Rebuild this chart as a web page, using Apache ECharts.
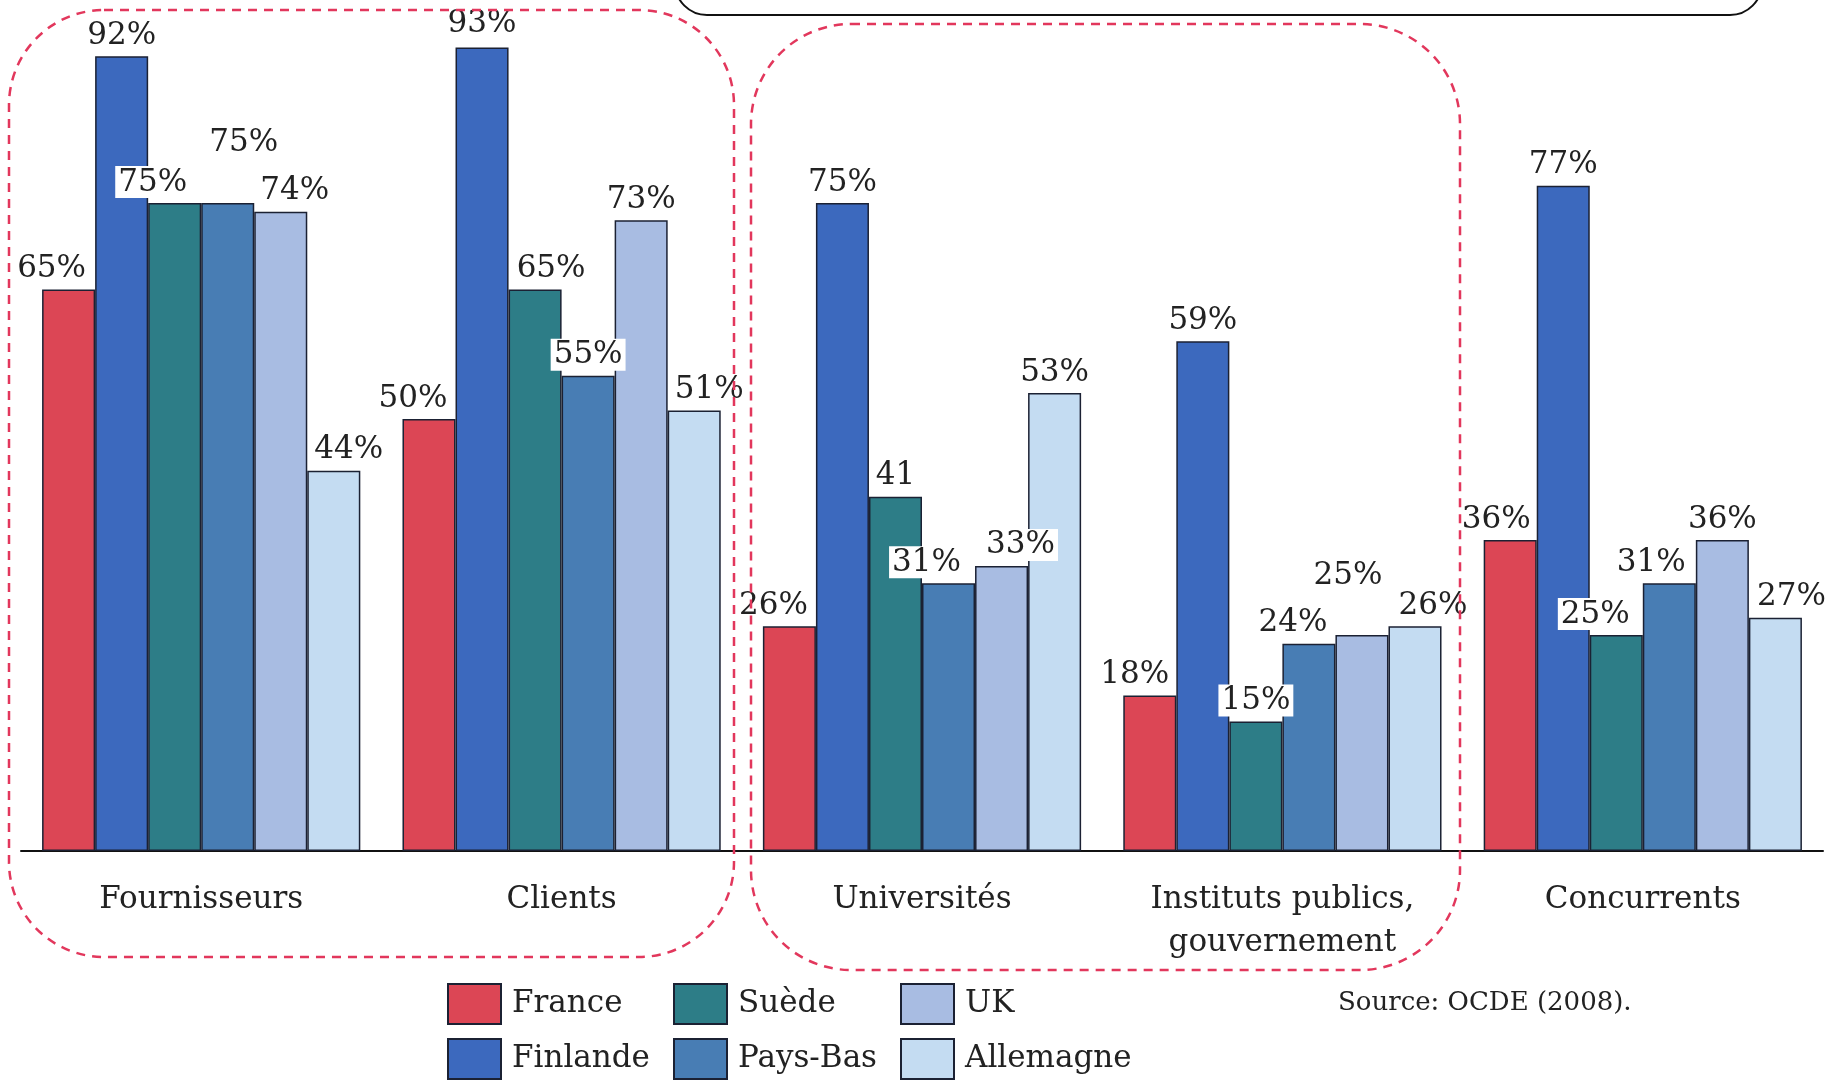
<!DOCTYPE html>
<html><head><meta charset="utf-8">
<script src="https://cdn.jsdelivr.net/npm/echarts@6/dist/echarts.min.js"></script>
<style>html,body{margin:0;padding:0;background:#fff}#c{width:1841px;height:1081px}</style>
</head><body><div id="c"></div>
<script>
// ---- data ----
const categories = ['Fournisseurs', 'Clients', 'Universités', 'Instituts publics,\ngouvernement', 'Concurrents'];
const countries = ['France', 'Finlande', 'Suède', 'Pays-Bas', 'UK', 'Allemagne'];
const france    = [65, 50, 26, 18, 36];
const finlande  = [92, 93, 75, 59, 77];
const suede     = [75, 65, 41, 15, 25];
const paysBas   = [75, 55, 31, 24, 31];
const uk        = [74, 73, 33, 25, 36];
const allemagne = [44, 51, 53, 26, 27];
const labelTextOverrides = { 'Suède|2': '41' };
const sourceText = 'Source: OCDE (2008).';

// ---- styling ----
const FONT = 'DejaVu Serif';
const colors = ['#DC4655', '#3C69BE', '#2D7D87', '#487DB4', '#A8BCE2', '#C4DCF2'];
// [dx, dy, whiteBackground]
const labelTweaks = {
  'France':    [[-17,0],[-16,0],[-16,0],[-15,0],[-14,0]],
  'Finlande':  [[0,0],[0,-3],[0,0],[0,0],[0,0]],
  'Suède':     [[-22,0,1],[16,0],[0,0],[0,0,1],[-21,0,1]],
  'Pays-Bas':  [[16,-40],[0,0,1],[-22,0,1],[-16,0],[-18,0]],
  'UK':        [[14,0],[0,0],[19,0,1],[-14,-39],[0,0]],
  'Allemagne': [[15,0],[15,0],[0,0],[18,0],[16,0]]
};
const seriesValues = [france, finlande, suede, paysBas, uk, allemagne];

const series = countries.map((name, si) => ({
  name, type: 'bar',
  barGap: '0%', barCategoryGap: '11.7%',
  itemStyle: { color: colors[si], borderColor: '#1b2133', borderWidth: 1.5 },
  label: {
    show: true, position: 'top', distance: 5,
    fontFamily: FONT, fontSize: 31, color: '#222'
  },
  data: seriesValues[si].map((v, ci) => {
    const t = labelTweaks[name][ci];
    const txt = labelTextOverrides[name + '|' + ci] || (v + '%');
    const lab = { offset: [t[0], t[1]], formatter: txt };
    if (t[2]) { lab.backgroundColor = '#fff'; lab.padding = [1, 3, 0, 3]; }
    return { value: v, label: lab };
  })
}));

// legend placement: 3 columns x 2 rows
const legendLayout = {
  'France': [447, 983], 'Finlande': [447, 1038],
  'Suède': [673, 983], 'Pays-Bas': [673, 1038],
  'UK': [900, 983], 'Allemagne': [900, 1038]
};

const chart = echarts.init(document.getElementById('c'), null, { renderer: 'canvas' });
chart.setOption({
  animation: false,
  backgroundColor: '#fff',
  grid: { left: 21, right: 18, top: 0, bottom: 230, containLabel: false },
  xAxis: {
    type: 'category', data: categories,
    axisLine: { show: true, lineStyle: { color: '#111', width: 2 } },
    axisTick: { show: false },
    axisLabel: { margin: 27, fontFamily: FONT, fontSize: 31, color: '#222', lineHeight: 43, interval: 0 }
  },
  yAxis: { type: 'value', min: 0, max: 98.5, show: false, splitLine: { show: false } },
  legend: countries.map(name => ({
    data: [name], orient: 'horizontal', left: legendLayout[name][0], top: legendLayout[name][1],
    padding: 0, itemWidth: 53, itemHeight: 40, selectedMode: false, icon: 'rect',
    textStyle: { fontFamily: FONT, fontSize: 31, color: '#222', padding: [0, 0, 0, 6] }
  })),
  series,
  graphic: [
    { type: 'rect', shape: { x: 9, y: 10, width: 725, height: 947, r: 95 },
      style: { fill: 'none', stroke: '#E2375C', lineWidth: 2.5, lineDash: [9, 7] }, z: 100 },
    { type: 'rect', shape: { x: 751, y: 24, width: 709, height: 946, r: 100 },
      style: { fill: 'none', stroke: '#E2375C', lineWidth: 2.5, lineDash: [9, 7] }, z: 100 },
    { type: 'rect', shape: { x: 675, y: -60, width: 1087, height: 75, r: 32 },
      style: { fill: 'none', stroke: '#111', lineWidth: 2 }, z: 100 },
    { type: 'text', left: 1338, top: 990,
      style: { text: sourceText, fontFamily: FONT, fontSize: 26, fill: '#222' } }
  ]
});
</script></body></html>
